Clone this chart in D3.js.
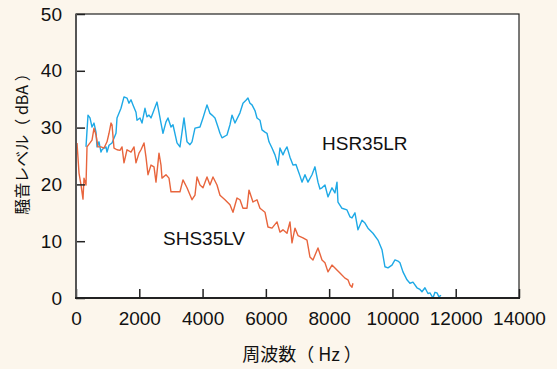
<!DOCTYPE html>
<html>
<head>
<meta charset="utf-8">
<script src="https://cdn.jsdelivr.net/npm/d3@7/dist/d3.min.js"></script>
<style>
  html, body { margin: 0; padding: 0; background: #fcf6ec; }
  svg { display: block; }
  text { font-family: "Liberation Sans", Arial, "Noto Sans CJK JP", sans-serif; fill: #111; }
</style>
</head>
<body>
<div id="chart"></div>
<script>
// series names
const seriesNames = ["HSR35LR", "SHS35LV"];

// HSR35LR (blue)
const hsrFreq = [316, 379, 442, 506, 569, 632, 664, 727, 790, 822, 885, 948, 980, 1043, 1138, 1264, 1296, 1422, 1517, 1612,
  1675, 1738, 1801, 1896, 1928, 2022, 2086, 2180, 2244, 2307, 2370, 2465, 2560, 2623, 2686, 2749, 2844, 2907, 3002, 3065,
  3192, 3286, 3413, 3508, 3602, 3666, 3760, 3918, 4013, 4140, 4234, 4298, 4392, 4487, 4550, 4614, 4772, 4866, 4930, 5024,
  5182, 5277, 5372, 5435, 5498, 5562, 5656, 5720, 5814, 5878, 5972, 6036, 6099, 6194, 6288, 6383, 6446, 6541, 6604, 6668,
  6762, 6857, 6952, 7015, 7078, 7142, 7236, 7331, 7458, 7552, 7647, 7710, 7774, 7868, 7963, 8090, 8184, 8248, 8279, 8406,
  8564, 8658, 8722, 8816, 8911, 9038, 9132, 9227, 9385, 9543, 9670, 9764, 9859, 9986, 10080, 10175, 10238, 10333, 10460, 10554,
  10649, 10776, 10870, 10934, 11028, 11123, 11186, 11281, 11344, 11408, 11471, 11534];
const hsrLevel = [26.6, 32.2, 31.7, 30.1, 30.8, 29.2, 26.6, 27.5, 25.7, 26.1, 26.4, 26.6, 25.7, 26.9, 27.3, 29.0, 31.7, 33.4, 35.4, 35.2,
  34.3, 34.9, 34.0, 32.7, 31.3, 31.7, 30.8, 33.4, 31.9, 32.2, 31.7, 33.1, 34.5, 32.7, 30.8, 29.0, 31.0, 31.7, 30.1, 30.5,
  27.3, 26.6, 31.7, 27.5, 27.0, 27.5, 29.9, 30.1, 31.7, 34.0, 32.5, 32.2, 31.7, 30.1, 29.0, 28.2, 28.7, 30.5, 32.2, 30.8,
  32.6, 34.3, 34.8, 35.2, 34.3, 34.0, 33.0, 31.7, 31.3, 29.6, 29.2, 29.0, 27.5, 26.4, 25.2, 23.4, 26.4, 25.2, 26.0, 26.6,
  24.8, 23.4, 23.5, 22.5, 21.5, 20.4, 21.7, 20.4, 21.7, 23.1, 20.4, 19.2, 19.4, 19.9, 17.8, 19.4, 18.5, 20.4, 16.9, 15.8,
  15.5, 14.3, 14.1, 15.0, 12.0, 13.7, 13.2, 12.3, 11.4, 10.2, 8.5, 5.5, 5.3, 5.8, 6.7, 6.5, 6.2, 4.6, 3.2, 2.6,
  2.8, 1.8, 1.5, 1.1, 1.8, 0.8, 0.9, 0.0, 1.0, 0.9, 0.2, 0.5];

// SHS35LV (orange)
const shsFreq = [32, 95, 158, 221, 253, 316, 348, 442, 506, 569, 632, 695, 790, 885, 980, 1043, 1106, 1138, 1201, 1296,
  1390, 1454, 1517, 1612, 1738, 1833, 1896, 1991, 2054, 2149, 2212, 2275, 2370, 2465, 2528, 2623, 2686, 2718, 2844, 2939,
  3002, 3128, 3286, 3381, 3508, 3666, 3760, 3824, 3918, 4013, 4140, 4234, 4329, 4456, 4550, 4708, 4866, 4961, 5088, 5182,
  5277, 5404, 5467, 5593, 5720, 5814, 5972, 6067, 6194, 6352, 6446, 6541, 6668, 6762, 6826, 6920, 7015, 7173, 7300, 7394,
  7489, 7647, 7774, 7868, 7963, 8090, 8184, 8342, 8500, 8595, 8658, 8722, 8753];
const shsLevel = [27.3, 22.0, 19.9, 17.4, 21.1, 19.9, 26.6, 27.3, 27.8, 29.9, 28.7, 26.6, 26.6, 26.4, 27.5, 29.0, 30.8, 30.5, 26.4, 26.1,
  26.0, 26.6, 23.8, 26.1, 25.7, 26.6, 23.8, 25.5, 26.1, 27.3, 24.8, 21.7, 23.4, 23.1, 20.4, 25.5, 23.4, 21.1, 21.7, 21.1,
  18.7, 18.7, 18.7, 20.8, 19.4, 17.3, 18.1, 21.3, 19.9, 19.4, 21.3, 19.9, 21.3, 19.9, 18.1, 17.3, 16.4, 15.1, 17.6, 17.3,
  15.8, 15.8, 19.0, 16.9, 17.3, 15.8, 15.1, 12.5, 12.3, 13.4, 11.6, 12.0, 11.4, 13.4, 9.7, 12.3, 11.0, 10.6, 10.2, 7.2,
  6.7, 8.8, 6.7, 6.2, 4.6, 5.8, 5.3, 4.4, 3.5, 3.2, 2.3, 1.9, 2.6];

const xTicks = [0, 2000, 4000, 6000, 8000, 10000, 12000, 14000];
const yTicks = [0, 10, 20, 30, 40, 50];
const xTitle = "周波数（ Hz ）";
const yTitle = "騒音レベル（ dBA ）";

const W = 557, H = 369;
const plot = { left: 76, right: 519, top: 14, bottom: 298 };

const svg = d3.select("#chart").append("svg")
  .attr("width", W)
  .attr("height", H);

svg.append("rect").attr("width", W).attr("height", H).attr("fill", "#fcf6ec");

const x = d3.scaleLinear().domain([0, 14000]).range([plot.left, plot.right]);
const y = d3.scaleLinear().domain([0, 50]).range([plot.bottom, plot.top]);

// plot background
svg.append("rect")
  .attr("x", plot.left).attr("y", plot.top)
  .attr("width", plot.right - plot.left).attr("height", plot.bottom - plot.top)
  .attr("fill", "#fff");

// lines
const line = d3.line().x(d => x(d[0])).y(d => y(d[1]));

svg.append("path")
  .datum(d3.zip(hsrFreq, hsrLevel))
  .attr("d", line)
  .attr("fill", "none")
  .attr("stroke", "#1ea9e6")
  .attr("stroke-width", 1.4)
  .attr("stroke-linejoin", "round");

svg.append("path")
  .datum(d3.zip(shsFreq, shsLevel))
  .attr("d", line)
  .attr("fill", "none")
  .attr("stroke", "#e8653d")
  .attr("stroke-width", 1.4)
  .attr("stroke-linejoin", "round");

// axes, ticks inward
const xAxis = d3.axisBottom(x).tickValues(xTicks).tickFormat(d3.format("d"))
  .tickSizeInner(-9).tickSizeOuter(0).tickPadding(14);
const yAxis = d3.axisLeft(y).tickValues(yTicks).tickFormat(d3.format("d"))
  .tickSizeInner(-9).tickSizeOuter(0).tickPadding(14);

const gx = svg.append("g").attr("transform", `translate(0,${plot.bottom})`).call(xAxis);
const gy = svg.append("g").attr("transform", `translate(${plot.left},0)`).call(yAxis);

[gx, gy].forEach(g => {
  g.select(".domain").remove();
  g.selectAll("line").attr("stroke", "#222").attr("stroke-width", 1.5);
  g.selectAll("text")
    .attr("font-size", 19)
    .attr("fill", "#111")
    .style("font-family", '"Liberation Sans", Arial, sans-serif');
});

// frame
svg.append("rect")
  .attr("x", plot.left).attr("y", plot.top)
  .attr("width", plot.right - plot.left).attr("height", plot.bottom - plot.top)
  .attr("fill", "none").attr("stroke", "#222").attr("stroke-width", 1.2);
svg.append("line")
  .attr("x1", plot.left).attr("x2", plot.left)
  .attr("y1", plot.top).attr("y2", plot.bottom + 1)
  .attr("stroke", "#555").attr("stroke-width", 2);
svg.append("line")
  .attr("x1", plot.left - 1).attr("x2", plot.right + 1)
  .attr("y1", plot.bottom).attr("y2", plot.bottom)
  .attr("stroke", "#222").attr("stroke-width", 2);

// series labels
svg.append("text").attr("x", 322).attr("y", 150)
  .attr("font-size", 19).text(seriesNames[0]);
svg.append("text").attr("x", 163).attr("y", 245)
  .attr("font-size", 19).text(seriesNames[1]);

// axis titles
svg.append("text")
  .attr("x", 302).attr("y", 361)
  .attr("text-anchor", "middle")
  .attr("font-size", 18)
  .style("font-family", '"Noto Sans CJK JP", sans-serif')
  .text(xTitle);

svg.append("text")
  .attr("transform", "translate(28,140) rotate(-90)")
  .attr("text-anchor", "middle")
  .attr("font-size", 16)
  .style("font-family", '"Noto Sans CJK JP", sans-serif')
  .text(yTitle);
</script>
</body>
</html>
